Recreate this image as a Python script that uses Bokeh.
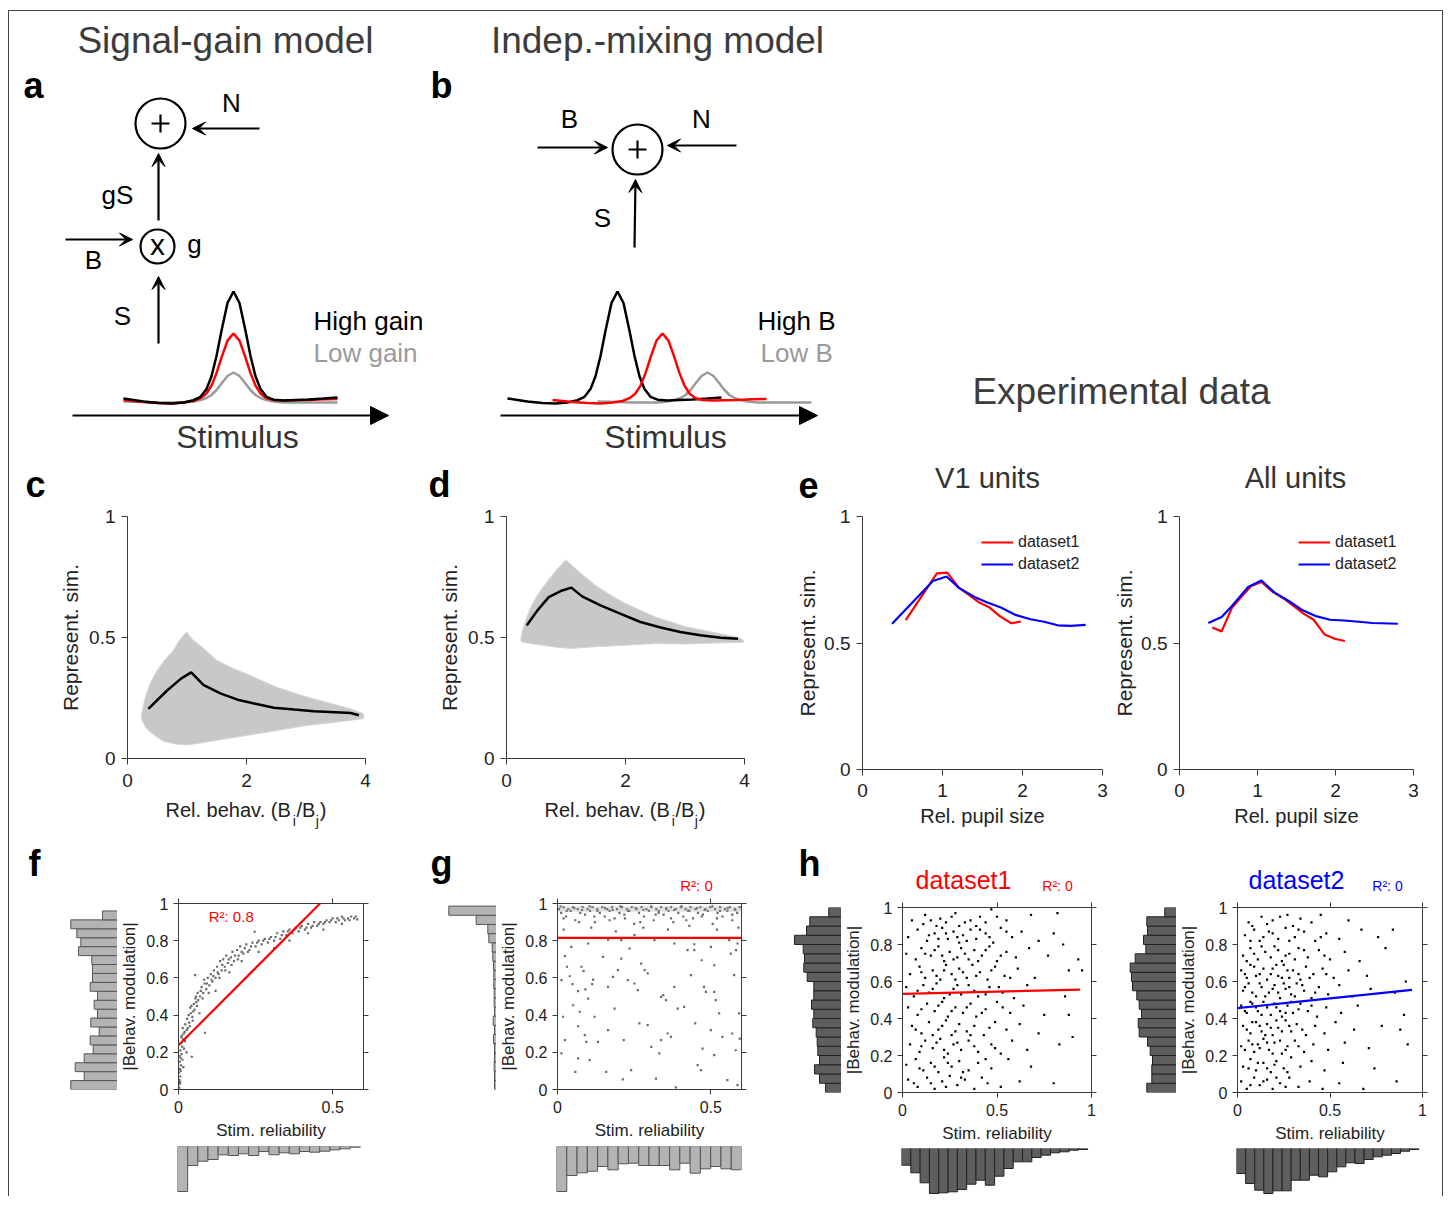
import numpy as np
from bokeh.plotting import figure
from bokeh.layouts import row, column
from bokeh.models import (Range1d, Label, Arrow, VeeHead, NormalHead, LinearAxis,
                          FixedTicker, NumeralTickFormatter, Legend, LegendItem,
                          CustomLabelingPolicy)
from bokeh.embed import file_html
from bokeh.resources import INLINE

FONT = "Liberation Sans"

# ======================= DATA =======================
# schematic tuning-curve bumps (offset from peak, height above baseline)
bump_dx    = [-110, -90, -75, -62, -50, -40, -33, -27, -22, -17, -12, -6, 0, 6, 12, 17, 22, 27, 33, 40, 50, 62, 75, 90, 104]
bump_black = [2, -1, -2.5, -3, -2, 0.3, 3.7, 11.4, 24.3, 44.5, 69.8, 97.5, 109, 97.5, 69.8, 44.5, 24.3, 11.4, 3.7, 0.8, 0, 0.5, 1, 2, 3]
bump_red   = [0.5, -1.5, -2.5, -3, -2, -0.5, 2.3, 7.0, 14.9, 27.4, 42.9, 59.9, 67, 59.9, 42.9, 27.4, 14.9, 7.0, 2.3, 0.5, 0, 0.3, 0.6, 1.2, 1.5]
bump_gray  = [-1, -1.5, -2, -2, -2, -1, 0.5, 2.5, 5.5, 10.5, 17, 24.5, 28, 24.5, 17, 10.5, 5.5, 2.5, 0.5, -1, -2, -2, -2, -2, -2]

# panel c : signal-gain model simulation cloud + mean
c_up_x = [0.23, 0.25, 0.3, 0.38, 0.5, 0.62, 0.75, 0.88, 0.99, 1.1, 1.25, 1.5, 1.75, 2.0, 2.5, 3.0, 3.5, 3.75, 3.97]
c_up_y = [0.17, 0.2, 0.254, 0.31, 0.364, 0.405, 0.44, 0.49, 0.523, 0.49, 0.461, 0.406, 0.375, 0.35, 0.295, 0.255, 0.222, 0.205, 0.185]
c_lo_x = [3.97, 3.5, 3.0, 2.5, 2.0, 1.5, 1.2, 1.0, 0.8, 0.6, 0.5, 0.38, 0.3, 0.25]
c_lo_y = [0.165, 0.15, 0.136, 0.115, 0.095, 0.075, 0.063, 0.056, 0.06, 0.072, 0.088, 0.11, 0.13, 0.155]
c_mean_x = [0.35, 0.67, 0.90, 1.07, 1.28, 1.57, 1.85, 2.13, 2.46, 2.80, 3.13, 3.58, 3.75, 3.89]
c_mean_y = [0.205, 0.282, 0.330, 0.356, 0.303, 0.268, 0.243, 0.227, 0.210, 0.202, 0.195, 0.190, 0.188, 0.179]

# panel d : independent-mixing model
d_up_x = [0.24, 0.27, 0.32, 0.4, 0.5, 0.62, 0.75, 0.88, 1.0, 1.2, 1.5, 1.75, 2.0, 2.5, 3.0, 3.5, 3.9, 3.98]
d_up_y = [0.49, 0.53, 0.57, 0.62, 0.667, 0.71, 0.752, 0.79, 0.821, 0.775, 0.715, 0.675, 0.64, 0.585, 0.545, 0.52, 0.5, 0.49]
d_lo_x = [3.98, 3.5, 3.0, 2.5, 2.0, 1.5, 1.1, 0.9, 0.6, 0.4, 0.25]
d_lo_y = [0.48, 0.477, 0.473, 0.475, 0.468, 0.462, 0.455, 0.458, 0.468, 0.475, 0.482]
d_mean_x = [0.34, 0.52, 0.71, 0.91, 1.09, 1.27, 1.58, 1.92, 2.25, 2.59, 2.92, 3.26, 3.60, 3.89]
d_mean_y = [0.550, 0.612, 0.667, 0.692, 0.706, 0.670, 0.633, 0.598, 0.564, 0.541, 0.523, 0.509, 0.499, 0.495]

# panel e : experimental data
v1_ds1_x = [0.54, 0.93, 1.06, 1.2, 1.33, 1.46, 1.59, 1.72, 1.86, 1.98]
v1_ds1_y = [0.59, 0.775, 0.778, 0.72, 0.69, 0.66, 0.64, 0.605, 0.578, 0.585]
v1_ds2_x = [0.37, 0.88, 1.05, 1.21, 1.40, 1.56, 1.73, 1.92, 2.10, 2.27, 2.44, 2.60, 2.79]
v1_ds2_y = [0.576, 0.745, 0.763, 0.717, 0.682, 0.660, 0.640, 0.610, 0.594, 0.584, 0.570, 0.568, 0.572]
all_ds1_x = [0.42, 0.54, 0.67, 0.79, 0.92, 1.05, 1.20, 1.34, 1.47, 1.59, 1.72, 1.86, 1.99, 2.12]
all_ds1_y = [0.561, 0.546, 0.638, 0.682, 0.725, 0.741, 0.701, 0.675, 0.645, 0.616, 0.592, 0.534, 0.517, 0.508]
all_ds2_x = [0.37, 0.54, 0.67, 0.88, 1.05, 1.22, 1.40, 1.58, 1.76, 1.93, 2.11, 2.30, 2.47, 2.80]
all_ds2_y = [0.579, 0.603, 0.645, 0.721, 0.747, 0.699, 0.666, 0.629, 0.605, 0.592, 0.589, 0.584, 0.579, 0.576]

# panel f : signal-gain model, reliability vs behavioural modulation
f_pts = [(0.002,0.01),(0.004,0.03),(0.003,0.05),(0.006,0.07),(0.002,0.09),(0.005,0.11),(0.008,0.13),(0.004,0.15),
         (0.007,0.17),(0.01,0.19),(0.006,0.21),(0.012,0.23),(0.009,0.25),(0.015,0.27),(0.011,0.29),(0.018,0.22),
         (0.02,0.31),(0.014,0.33),(0.025,0.28),(0.022,0.35),(0.03,0.33),(0.028,0.38),(0.035,0.36),(0.04,0.41),
         (0.038,0.44),(0.045,0.39),(0.05,0.46),(0.048,0.42),(0.055,0.49),(0.06,0.45),(0.062,0.52),(0.058,0.47),
         (0.07,0.5),(0.075,0.55),(0.08,0.52),(0.085,0.57),(0.09,0.54),(0.095,0.6),(0.1,0.56),(0.105,0.62),
         (0.11,0.58),(0.115,0.64),(0.12,0.6),(0.125,0.66),(0.13,0.62),(0.135,0.69),(0.14,0.64),(0.145,0.7),
         (0.15,0.66),(0.155,0.72),(0.16,0.68),(0.17,0.71),(0.175,0.74),(0.18,0.69),(0.19,0.75),(0.195,0.72),
         (0.2,0.77),(0.21,0.73),(0.215,0.76),(0.22,0.78),(0.23,0.75),(0.24,0.79),(0.25,0.77),(0.26,0.8),
         (0.27,0.78),(0.28,0.81),(0.29,0.79),(0.3,0.82),(0.31,0.8),(0.32,0.84),(0.33,0.81),(0.34,0.85),
         (0.35,0.83),(0.36,0.86),(0.37,0.84),(0.38,0.87),(0.39,0.85),(0.4,0.88),(0.41,0.86),(0.42,0.89),
         (0.43,0.87),(0.44,0.9),(0.45,0.88),(0.46,0.9),(0.47,0.89),(0.48,0.91),(0.49,0.9),(0.5,0.92),
         (0.51,0.9),(0.52,0.91),(0.53,0.93),(0.54,0.91),(0.55,0.92),(0.56,0.93),(0.57,0.92),(0.58,0.915),
         (0.086,0.305),(0.043,0.176),(0.247,0.848),(0.054,0.615),(0.016,0.12),(0.026,0.2),(0.068,0.41),
         (0.12,0.53),(0.165,0.63),(0.205,0.69),(0.26,0.74),(0.31,0.76),(0.36,0.8),(0.42,0.84),(0.47,0.86),(0.53,0.89),
         (0.005,0.04),(0.007,0.1),(0.003,0.18),(0.009,0.28),(0.013,0.16),(0.017,0.3),(0.021,0.26),(0.027,0.32),
         (0.033,0.4),(0.037,0.34),(0.042,0.45),(0.046,0.37),(0.052,0.43),(0.057,0.5),(0.064,0.48),(0.072,0.53),
         (0.078,0.49),(0.083,0.59),(0.092,0.57),(0.098,0.52),(0.107,0.59),(0.113,0.61),(0.127,0.63),(0.133,0.6),
         (0.142,0.67),(0.152,0.64),(0.163,0.7),(0.172,0.67),(0.183,0.72),(0.193,0.7),(0.205,0.74),(0.225,0.74),
         (0.235,0.77),(0.255,0.79),(0.275,0.8),(0.295,0.81),(0.315,0.82),(0.335,0.83),(0.355,0.85),(0.375,0.86),
         (0.395,0.87),(0.415,0.87),(0.435,0.88),(0.455,0.89),(0.475,0.9),(0.495,0.91),(0.515,0.92),(0.535,0.92),
         (0.555,0.91),(0.575,0.93)]
f_fit_x = [0.0, 0.459]
f_fit_y = [0.238, 1.0]
f_left_counts = [46.7, 33.3, 42.3, 33.3, 24.3, 27.3, 18.3, 26.7, 20, 23.3, 20, 27.3, 25, 25, 25.7, 39, 36.7, 40.7, 46.7, 15]
f_bottom_counts = [45, 19, 14.7, 13, 8.3, 9, 7.3, 9, 5, 8.3, 6.3, 7.3, 5, 5.7, 4.7, 3.3, 2.3, 0.7]

# panel g : independent-mixing model
g_pts = [(0.005,0.97),(0.012,0.95),(0.02,0.98),(0.028,0.93),(0.035,0.97),(0.043,0.96),(0.05,0.98),(0.058,0.91),
         (0.066,0.97),(0.074,0.95),(0.082,0.98),(0.09,0.94),(0.098,0.97),(0.106,0.96),(0.114,0.98),(0.122,0.9),
         (0.13,0.97),(0.138,0.95),(0.146,0.98),(0.154,0.93),(0.162,0.97),(0.17,0.96),(0.178,0.98),(0.186,0.92),
         (0.194,0.97),(0.202,0.95),(0.21,0.98),(0.218,0.94),(0.226,0.97),(0.234,0.96),(0.242,0.98),(0.25,0.89),
         (0.258,0.97),(0.266,0.95),(0.274,0.98),(0.282,0.93),(0.29,0.97),(0.298,0.96),(0.306,0.98),(0.314,0.91),
         (0.322,0.97),(0.33,0.95),(0.338,0.98),(0.346,0.94),(0.354,0.97),(0.362,0.96),(0.37,0.98),(0.378,0.9),
         (0.386,0.97),(0.394,0.95),(0.402,0.98),(0.41,0.93),(0.418,0.97),(0.426,0.96),(0.434,0.98),(0.442,0.92),
         (0.45,0.97),(0.458,0.95),(0.466,0.98),(0.474,0.94),(0.482,0.97),(0.49,0.96),(0.498,0.98),(0.506,0.89),
         (0.514,0.97),(0.522,0.95),(0.53,0.98),(0.538,0.93),(0.546,0.97),(0.554,0.96),(0.562,0.98),(0.57,0.91),
         (0.578,0.97),(0.586,0.95),(0.594,0.98),
         (0.01,0.985),(0.03,0.96),(0.055,0.975),(0.08,0.965),(0.105,0.985),(0.13,0.96),(0.155,0.975),(0.18,0.965),
         (0.205,0.985),(0.23,0.96),(0.255,0.975),(0.28,0.965),(0.305,0.985),(0.33,0.96),(0.355,0.975),(0.38,0.965),
         (0.405,0.985),(0.43,0.96),(0.455,0.975),(0.48,0.965),(0.505,0.985),(0.53,0.96),(0.555,0.975),(0.58,0.965),
         (0.02,0.92),(0.07,0.9),(0.12,0.93),(0.17,0.91),(0.22,0.92),(0.27,0.9),(0.32,0.94),(0.37,0.92),
         (0.42,0.91),(0.47,0.93),(0.52,0.92),(0.57,0.94),
         (0.024,0.717),(0.031,0.66),(0.04,0.609),(0.049,0.566),(0.067,0.529),(0.078,0.66),(0.085,0.636),
         (0.091,0.538),(0.1,0.489),(0.113,0.566),(0.116,0.591),(0.148,0.713),(0.165,0.552),(0.181,0.606),
         (0.197,0.642),(0.208,0.704),(0.235,0.758),(0.273,0.677),(0.284,0.642),(0.294,0.624),(0.251,0.57),
         (0.338,0.498),(0.345,0.507),(0.354,0.48),(0.381,0.552),(0.392,0.435),(0.424,0.749),(0.446,0.749),
         (0.47,0.695),(0.478,0.552),(0.484,0.525),(0.511,0.668),(0.516,0.48),(0.527,0.409),(0.565,0.731),
         (0.576,0.615),(0.582,0.749),(0.592,0.409),
         (0.013,0.194),(0.024,0.265),(0.058,0.095),(0.067,0.167),(0.089,0.292),(0.094,0.256),(0.105,0.158),
         (0.132,0.256),(0.159,0.095),(0.165,0.319),(0.216,0.265),(0.213,0.054),(0.24,0.104),(0.267,0.355),
         (0.306,0.229),(0.321,0.059),(0.332,0.194),(0.338,0.265),(0.359,0.301),(0.386,0.011),(0.413,0.444),
         (0.449,0.355),(0.457,0.131),(0.468,0.104),(0.473,0.22),(0.5,0.319),(0.511,0.185),(0.538,0.283),
         (0.554,0.05),(0.57,0.301),(0.581,0.211),(0.587,0.023),(0.594,0.274),
         (0.013,0.588),(0.018,0.391),(0.051,0.453),(0.067,0.34),(0.073,0.418),(0.121,0.391),(0.186,0.435),
         (0.229,0.588),(0.262,0.534),(0.294,0.346),(0.37,0.283),(0.435,0.615),(0.511,0.525),(0.56,0.803),
         (0.587,0.785),(0.316,0.803),(0.208,0.803),(0.1,0.785),(0.165,0.806),(0.381,0.785),(0.446,0.781),
         (0.251,0.83),(0.045,0.767),(0.5,0.767),(0.02,0.86),(0.11,0.87),(0.19,0.85),(0.28,0.87),(0.36,0.86),
         (0.43,0.88),(0.52,0.86),(0.59,0.87)]
g_band_x = [0.0, 0.6, 0.6, 0.0]
g_band_y = [0.955, 0.955, 0.985, 0.985]
g_fit_x = [0.0, 0.6]
g_fit_y = [0.815, 0.815]
g_left_counts = [2, 2, 2.3, 2, 2, 3, 2, 3.3, 2, 2.3, 2.3, 2.7, 2.7, 3, 3.7, 4.3, 7.7, 8.7, 20.3, 47.7]
g_bottom_counts = [45, 29, 26.3, 24.7, 20, 23.3, 17.3, 16.7, 19, 19, 19, 23.3, 16.7, 26.7, 22.3, 20, 22.3, 23.3]

# panel h : experimental data
h1_pts = [(0.05,0.93),(0.12,0.96),(0.2,0.94),(0.28,0.97),(0.33,0.92),(0.41,0.95),(0.47,0.99),(0.55,0.93),(0.68,0.96),(0.82,0.97),
          (0.03,0.84),(0.08,0.88),(0.13,0.82),(0.17,0.86),(0.21,0.89),(0.24,0.83),(0.27,0.87),(0.3,0.81),(0.32,0.85),
          (0.36,0.88),(0.39,0.83),(0.44,0.86),(0.48,0.81),(0.52,0.89),(0.58,0.84),(0.63,0.87),(0.72,0.82),(0.8,0.86),
          (0.02,0.75),(0.07,0.72),(0.1,0.78),(0.15,0.74),(0.19,0.79),(0.22,0.71),(0.25,0.76),(0.29,0.73),(0.31,0.78),
          (0.35,0.72),(0.38,0.77),(0.42,0.74),(0.46,0.79),(0.5,0.71),(0.55,0.76),(0.6,0.73),(0.67,0.78),(0.77,0.74),
          (0.04,0.64),(0.09,0.68),(0.12,0.62),(0.16,0.66),(0.2,0.61),(0.23,0.69),(0.26,0.64),(0.3,0.67),(0.34,0.62),
          (0.37,0.69),(0.41,0.65),(0.45,0.61),(0.49,0.68),(0.54,0.63),(0.61,0.67),(0.7,0.62),(0.88,0.66),
          (0.02,0.57),(0.06,0.52),(0.11,0.58),(0.14,0.54),(0.18,0.59),(0.22,0.51),(0.27,0.56),(0.31,0.53),(0.35,0.58),
          (0.4,0.52),(0.46,0.57),(0.53,0.54),(0.59,0.51),(0.66,0.58),(0.86,0.52),
          (0.03,0.46),(0.08,0.42),(0.13,0.48),(0.17,0.44),(0.21,0.49),(0.24,0.41),(0.28,0.46),(0.32,0.43),(0.36,0.48),
          (0.39,0.41),(0.44,0.45),(0.5,0.49),(0.57,0.43),(0.64,0.47),(0.75,0.42),
          (0.05,0.36),(0.1,0.32),(0.14,0.38),(0.19,0.34),(0.23,0.39),(0.26,0.31),(0.3,0.37),(0.34,0.33),(0.38,0.36),
          (0.43,0.31),(0.49,0.38),(0.55,0.34),(0.62,0.37),(0.72,0.32),
          (0.04,0.26),(0.09,0.22),(0.12,0.28),(0.16,0.24),(0.2,0.29),(0.24,0.21),(0.27,0.26),(0.31,0.23),(0.35,0.28),
          (0.4,0.22),(0.47,0.26),(0.49,0.24),(0.58,0.28),(0.66,0.23),
          (0.02,0.15),(0.07,0.18),(0.11,0.12),(0.15,0.16),(0.19,0.11),(0.22,0.19),(0.26,0.14),(0.3,0.17),(0.35,0.12),
          (0.4,0.16),(0.47,0.13),(0.56,0.18),(0.68,0.14),
          (0.03,0.07),(0.08,0.03),(0.13,0.08),(0.17,0.02),(0.21,0.06),(0.25,0.09),(0.29,0.04),(0.33,0.07),(0.38,0.02),
          (0.45,0.05),(0.52,0.03),(0.62,0.06),
          (0.8,0.05),(0.83,0.26),(0.88,0.42),(0.9,0.3),(0.93,0.72),(0.95,0.66),(0.85,0.8),
          (0.11,0.91),(0.15,0.93),(0.18,0.9),(0.23,0.92),(0.26,0.95),(0.3,0.9),(0.36,0.93),(0.39,0.9),(0.44,0.92),(0.5,0.95),
          (0.14,0.85),(0.19,0.83),(0.23,0.86),(0.29,0.84),(0.34,0.82),(0.41,0.88),(0.46,0.84),(0.55,0.87),
          (0.12,0.75),(0.17,0.77),(0.21,0.74),(0.27,0.72),(0.33,0.75),(0.4,0.71),(0.44,0.77),(0.52,0.74),
          (0.1,0.65),(0.18,0.63),(0.22,0.66),(0.28,0.61),(0.32,0.65),(0.39,0.63),(0.47,0.66),(0.57,0.62),
          (0.08,0.55),(0.16,0.56),(0.25,0.53),(0.29,0.58),(0.38,0.55),(0.44,0.53),(0.51,0.57),
          (0.1,0.45),(0.19,0.47),(0.26,0.44),(0.34,0.46),(0.42,0.43),(0.53,0.46),
          (0.07,0.34),(0.16,0.31),(0.21,0.36),(0.28,0.33),(0.36,0.31),(0.46,0.35),
          (0.1,0.25),(0.18,0.27),(0.22,0.23),(0.29,0.27),(0.38,0.25),(0.52,0.21),
          (0.09,0.13),(0.17,0.14),(0.24,0.16),(0.32,0.11),(0.44,0.18),
          (0.06,0.05),(0.15,0.05),(0.23,0.03),(0.31,0.08),(0.42,0.08)]
h1_fit_x = [0.0, 0.94]
h1_fit_y = [0.533, 0.556]
h1_left_counts = [16, 22, 27, 22, 23.7, 24.3, 25.3, 28.7, 27.7, 30, 27.7, 27.7, 34.3, 37.7, 37, 38.3, 47, 35, 31.7, 12.7]
h1_bottom_counts = [16.7, 24.3, 34.3, 45, 44.3, 43.3, 41, 35.7, 31.7, 36.7, 27.7, 20, 13.3, 13.3, 9, 6.7, 4.3, 3.3, 1.7, 1]

h2_pts = [(0.06,0.92),(0.13,0.95),(0.19,0.93),(0.27,0.96),(0.34,0.94),(0.45,0.96),(0.6,0.93),
          (0.04,0.85),(0.09,0.88),(0.12,0.82),(0.17,0.87),(0.22,0.83),(0.26,0.89),(0.31,0.84),(0.36,0.87),(0.42,0.82),
          (0.48,0.86),(0.55,0.83),(0.67,0.88),(0.76,0.84),
          (0.03,0.74),(0.07,0.78),(0.11,0.72),(0.15,0.76),(0.2,0.79),(0.24,0.71),(0.28,0.75),(0.33,0.78),(0.38,0.73),
          (0.44,0.77),(0.5,0.72),(0.58,0.76),(0.66,0.71),(0.8,0.78),
          (0.02,0.66),(0.05,0.62),(0.09,0.68),(0.12,0.64),(0.16,0.61),(0.19,0.67),(0.22,0.63),(0.25,0.69),(0.28,0.62),
          (0.3,0.66),(0.34,0.61),(0.37,0.68),(0.41,0.64),(0.46,0.67),(0.52,0.62),(0.6,0.66),(0.7,0.63),(0.91,0.6),
          (0.03,0.55),(0.06,0.59),(0.1,0.52),(0.13,0.57),(0.17,0.54),(0.2,0.58),(0.23,0.51),(0.26,0.56),(0.29,0.53),
          (0.32,0.59),(0.36,0.55),(0.4,0.51),(0.44,0.57),(0.49,0.53),(0.55,0.58),(0.62,0.52),(0.72,0.56),(0.85,0.54),
          (0.02,0.47),(0.05,0.43),(0.08,0.48),(0.11,0.44),(0.14,0.49),(0.18,0.42),(0.21,0.46),(0.24,0.41),(0.27,0.47),
          (0.3,0.43),(0.34,0.48),(0.38,0.44),(0.43,0.41),(0.48,0.46),(0.56,0.43),(0.65,0.47),(0.9,0.42),
          (0.03,0.36),(0.07,0.32),(0.1,0.38),(0.13,0.33),(0.16,0.37),(0.19,0.31),(0.22,0.35),(0.26,0.39),(0.29,0.33),
          (0.32,0.37),(0.37,0.31),(0.42,0.36),(0.47,0.32),(0.53,0.38),(0.63,0.34),(0.78,0.36),
          (0.02,0.25),(0.06,0.28),(0.09,0.22),(0.11,0.26),(0.14,0.29),(0.17,0.23),(0.2,0.27),(0.24,0.21),(0.27,0.25),
          (0.31,0.28),(0.36,0.22),(0.41,0.26),(0.49,0.23),(0.58,0.27),(0.71,0.24),
          (0.03,0.14),(0.07,0.18),(0.1,0.12),(0.14,0.16),(0.18,0.11),(0.21,0.17),(0.25,0.13),(0.29,0.19),(0.34,0.14),
          (0.4,0.17),(0.47,0.12),(0.57,0.16),(0.74,0.13),
          (0.02,0.06),(0.05,0.02),(0.09,0.08),(0.12,0.04),(0.16,0.07),(0.19,0.02),(0.23,0.05),(0.28,0.08),(0.33,0.03),
          (0.39,0.06),(0.46,0.02),(0.55,0.05),(0.68,0.02),
          (0.86,0.06),(0.88,0.34),(0.84,0.88),(0.92,0.26),
          (0.08,0.9),(0.16,0.91),(0.23,0.95),(0.3,0.9),(0.4,0.92),
          (0.07,0.82),(0.14,0.84),(0.19,0.86),(0.28,0.82),(0.33,0.88),(0.45,0.84),
          (0.05,0.71),(0.09,0.75),(0.13,0.79),(0.18,0.73),(0.22,0.77),(0.26,0.74),(0.31,0.72),(0.36,0.77),(0.47,0.74),
          (0.04,0.64),(0.07,0.69),(0.1,0.63),(0.14,0.67),(0.18,0.64),(0.21,0.69),(0.24,0.62),(0.27,0.66),(0.33,0.64),
          (0.39,0.62),(0.48,0.64),
          (0.04,0.57),(0.08,0.54),(0.12,0.59),(0.15,0.52),(0.19,0.56),(0.22,0.54),(0.25,0.59),(0.28,0.57),(0.31,0.52),
          (0.35,0.58),(0.42,0.54),
          (0.04,0.44),(0.07,0.49),(0.1,0.46),(0.13,0.42),(0.16,0.46),(0.2,0.48),(0.23,0.44),(0.26,0.43),(0.29,0.49),
          (0.33,0.45),(0.4,0.47),
          (0.05,0.34),(0.08,0.38),(0.12,0.36),(0.15,0.31),(0.18,0.35),(0.21,0.39),(0.24,0.33),(0.28,0.36),(0.35,0.34),
          (0.04,0.23),(0.08,0.26),(0.12,0.24),(0.16,0.27),(0.19,0.21),(0.23,0.28),(0.26,0.23),(0.33,0.25),
          (0.06,0.13),(0.11,0.16),(0.16,0.13),(0.2,0.15),(0.27,0.11),
          (0.07,0.04),(0.14,0.06),(0.21,0.08),(0.26,0.03)]
h2_fit_x = [0.0, 0.943]
h2_fit_y = [0.456, 0.555]
h2_left_counts = [29.7, 24.7, 24.7, 24, 26.3, 29, 37.3, 38.3, 35, 37.3, 39.7, 44, 45, 46.3, 41.3, 30.7, 33, 29, 29.7, 11.7]
h2_bottom_counts = [25, 35, 41.7, 45, 42.3, 42.3, 31.7, 31.7, 26.7, 28.3, 23.3, 18.3, 14.3, 15, 11, 8.3, 6.7, 5, 2.7, 1]

# ======================= HELPERS =======================
FRAMES = {}


def panel(px0, py0, px1, py1, fl, ft, fr, fb, xr, yr):
    p = figure(width=px1 - px0, height=py1 - py0, x_range=Range1d(*xr), y_range=Range1d(*yr),
               output_backend="svg", toolbar_location=None, x_axis_type=None, y_axis_type=None,
               min_border_left=fl - px0, min_border_right=px1 - fr,
               min_border_top=ft - py0, min_border_bottom=py1 - fb)
    p.frame_align = False
    p.outline_line_color = None
    p.background_fill_color = "white"
    p.border_fill_color = "white"
    FRAMES[p.id] = (fl, ft, fr, fb, xr, yr)
    return p


def strip(px0, py0, px1, py1):
    return panel(px0, py0, px1, py1, px0, py0, px1, py1, (px0, px1), (py1, py0))


def to_data(p, px, py):
    fl, ft, fr, fb, (x0, x1), (y0, y1) = FRAMES[p.id]
    return (x0 + (px - fl) / (fr - fl) * (x1 - x0),
            y0 + (fb - py) / (fb - ft) * (y1 - y0))


def txt(p, px, py, text, size, color="#222222", style="normal", align="center", center=False):
    # py is the text baseline (page px) unless center=True
    yc = py if center else py - 0.35 * size
    x, y = to_data(p, px, yc)
    p.add_layout(Label(x=x, y=y, text=text, text_font=FONT, text_font_size=f"{size}px",
                       text_color=color, text_font_style=style, text_align=align,
                       text_baseline="middle"))


def add_axis(p, side, ticks, fs=19, label=None, lfs=20, standoff=6, tick_out=6, lstand=4, show=True):
    ax = LinearAxis(ticker=FixedTicker(ticks=ticks), formatter=NumeralTickFormatter(format="0.[0]"))
    ax.major_tick_in = 0
    ax.major_tick_out = tick_out
    ax.minor_tick_line_color = None
    ax.axis_line_color = "#3a3a3a"
    ax.major_tick_line_color = "#3a3a3a"
    ax.major_label_text_font = FONT
    ax.major_label_text_color = "#222222"
    if show:
        ax.major_label_text_font_size = f"{fs}px"
        ax.major_label_standoff = standoff
    else:
        ax.major_label_text_font_size = "1px"
        ax.major_label_standoff = 0
        ax.major_label_policy = CustomLabelingPolicy(code="return []")
    if label:
        ax.axis_label = label
        ax.axis_label_text_font = FONT
        ax.axis_label_text_font_size = f"{lfs}px"
        ax.axis_label_text_font_style = "normal"
        ax.axis_label_text_color = "#222222"
        ax.axis_label_standoff = lstand
    p.add_layout(ax, side)
    return ax


def arrow(p, x0, y0, x1, y1, big=False):
    head = (NormalHead(size=18, fill_color="black", line_color="black", line_width=1) if big
            else VeeHead(size=13, fill_color="black", line_color="black", line_width=1))
    p.add_layout(Arrow(end=head, x_start=x0, y_start=y0, x_end=x1, y_end=y1,
                       line_width=2.2, line_color="black"))


RIGHT = 1442

# ======================= BAND A: schematics + row-2 headers =======================
top = strip(9, 11, RIGHT, 505)

TITLE_C = "#3c3c3c"
txt(top, 225, 53, "Signal-gain model", 37, TITLE_C)
txt(top, 657, 53, "Indep.-mixing model", 37, TITLE_C)
txt(top, 1121, 404, "Experimental data", 37, TITLE_C)
txt(top, 23, 98, "a", 36, "black", "bold", "left")
txt(top, 430, 98, "b", 36, "black", "bold", "left")

# --- a ---
top.circle(x=[160], y=[123], radius=25, fill_color=None, line_color="black", line_width=2.2)
top.segment(x0=[151, 160], y0=[123, 114], x1=[169, 160], y1=[123, 132], line_color="black", line_width=2.2)
top.circle(x=[157], y=[246], radius=17, fill_color=None, line_color="black", line_width=2.2)
txt(top, 157, 244, "x", 30, "black", center=True)
arrow(top, 259, 128, 192, 128)
arrow(top, 158, 220, 158, 153)
arrow(top, 65, 239, 132, 239)
arrow(top, 158, 343, 158, 276)
arrow(top, 72, 415, 388, 415, big=True)
txt(top, 231, 112, "N", 26, "black")
txt(top, 117, 204, "gS", 26, "black")
txt(top, 194, 253, "g", 26, "black")
txt(top, 93, 269, "B", 26, "black")
txt(top, 122, 325, "S", 26, "black")
for cx, h, col in [(233, bump_gray, "#9a9a9a"), (233, bump_red, "#ff0000"), (233, bump_black, "black")]:
    top.line([cx + d for d in bump_dx], [400 - v for v in h], line_color=col, line_width=2.5)
txt(top, 313, 330, "High gain", 26, "black", align="left")
txt(top, 313, 362, "Low gain", 26, "#9a9a9a", align="left")
txt(top, 237, 448, "Stimulus", 32, "#333333")

# --- b ---
top.circle(x=[637], y=[149], radius=25, fill_color=None, line_color="black", line_width=2.2)
top.segment(x0=[628, 637], y0=[149, 140], x1=[646, 637], y1=[149, 158], line_color="black", line_width=2.2)
arrow(top, 537, 147, 607, 147)
arrow(top, 736, 145, 667, 145)
arrow(top, 634, 247, 635, 179)
arrow(top, 500, 415, 817, 415, big=True)
txt(top, 569, 128, "B", 26, "black")
txt(top, 701, 128, "N", 26, "black")
txt(top, 602, 227, "S", 26, "black")
for cx, h, col in [(707, bump_gray, "#9a9a9a"), (617, bump_black, "black"), (662, bump_red, "#ff0000")]:
    top.line([cx + d for d in bump_dx], [400 - v for v in h], line_color=col, line_width=2.5)
txt(top, 757, 330, "High B", 26, "black", align="left")
txt(top, 760, 362, "Low B", 26, "#9a9a9a", align="left")
txt(top, 665, 448, "Stimulus", 32, "#333333")

# row-2 panel letters and titles
txt(top, 25, 497, "c", 36, "black", "bold", "left")
txt(top, 428, 497, "d", 36, "black", "bold", "left")
txt(top, 798, 497, "e", 36, "black", "bold", "left")
txt(top, 987, 488, "V1 units", 29, "#333333")
txt(top, 1295, 488, "All units", 29, "#333333")

# ======================= BAND B: c, d, e =======================
def sim_panel(px0, px1, fl, fr, up_x, up_y, lo_x, lo_y, m_x, m_y):
    p = panel(px0, 505, px1, 796, fl, 516, fr, 758, (0, 4), (0, 1))
    add_axis(p, "left", [0, 0.5, 1], 19, "Represent. sim.", 21, lstand=4)
    add_axis(p, "below", [0, 2, 4], 19, standoff=9)
    p.patch(up_x + lo_x, up_y + lo_y, fill_color="#c8c8c8", line_color="#d6d6d6", line_width=1)
    p.line(m_x, m_y, line_color="black", line_width=2.5)
    return p


fig_c = sim_panel(9, 405, 127, 365, c_up_x, c_up_y, c_lo_x, c_lo_y, c_mean_x, c_mean_y)
fig_d = sim_panel(405, 785, 506, 744, d_up_x, d_up_y, d_lo_x, d_lo_y, d_mean_x, d_mean_y)

strip_cd = strip(9, 796, 785, 840)
for cx in (246, 625):
    s = cx - 81
    txt(strip_cd, s, 816, "Rel. behav. (B", 20, align="left")
    txt(strip_cd, s + 127.2, 825, "i", 14, align="left")
    txt(strip_cd, s + 131.0, 816, "/B", 20, align="left")
    txt(strip_cd, s + 150.3, 825, "j", 14, align="left")
    txt(strip_cd, s + 154.3, 816, ")", 20, align="left")


def exp_panel(px0, px1, fl, fr, x1, y1, x2, y2):
    p = panel(px0, 505, px1, 840, fl, 516, fr, 769, (0, 3), (0, 1))
    add_axis(p, "left", [0, 0.5, 1], 19, "Represent. sim.", 21, lstand=2)
    add_axis(p, "below", [0, 1, 2, 3], 19, "Rel. pupil size", 20, standoff=8, lstand=5)
    r1 = p.line(x1, y1, line_color="#ff0000", line_width=2.2)
    r2 = p.line(x2, y2, line_color="#0000ff", line_width=2.2)
    leg = Legend(items=[LegendItem(label="dataset1", renderers=[r1]),
                        LegendItem(label="dataset2", renderers=[r2])],
                 location=(119, 195), border_line_color=None, background_fill_alpha=0,
                 label_text_font=FONT, label_text_font_size="16px", label_text_color="#222222",
                 glyph_width=32, glyph_height=20, label_height=20, label_standoff=5,
                 padding=4, spacing=2, margin=0)
    p.add_layout(leg)
    return p


fig_e1 = exp_panel(785, 1110, 862, 1102, v1_ds1_x, v1_ds1_y, v1_ds2_x, v1_ds2_y)
fig_e2 = exp_panel(1110, RIGHT, 1173, 1413, all_ds1_x, all_ds1_y, all_ds2_x, all_ds2_y)

# ======================= BAND C: row-3 headers =======================
H3 = 894
head3 = strip(9, 840, RIGHT, H3)
txt(head3, 28, 876, "f", 36, "black", "bold", "left")
txt(head3, 430, 876, "g", 36, "black", "bold", "left")
txt(head3, 798, 876, "h", 36, "black", "bold", "left")
txt(head3, 696, 890, "R²: 0", 15, "#ff0000")
txt(head3, 963, 888, "dataset1", 25, "#ff0000")
txt(head3, 1057, 890, "R²: 0", 14, "#ff0000")
txt(head3, 1296, 888, "dataset2", 25, "#0000ff")
txt(head3, 1387, 890, "R²: 0", 14, "#0000ff")

# ======================= BAND D: f, g, h =======================
def scatter_block(x0, xh, x1, ft, fb, fl, fr, xmax, xticks, hb_top,
                  pts, pcolor, psize, fit_x, fit_y, fit_col,
                  left_counts, ylo, yhi, bottom_counts, xlo, xhi, hfill, hline):
    hl = panel(x0, H3, xh, 1196, x0, ft, xh, fb, (xh - x0, 0), (0, 1))
    n = len(left_counts)
    bw = (yhi - ylo) / n
    centers = [ylo + bw * (i + 0.5) for i in range(n)]
    hl.hbar(y=centers, height=bw, left=0, right=left_counts, fill_color=hfill, line_color=hline, line_width=1)

    sc = panel(xh, H3, x1, hb_top, fl, ft, fr, fb, (0, xmax), (0, 1))
    add_axis(sc, "left", [0, 0.2, 0.4, 0.6, 0.8, 1], 16, "|Behav. modulation|", 17, standoff=5, tick_out=5, lstand=4)
    add_axis(sc, "below", xticks, 16, "Stim. reliability", 17, standoff=6, tick_out=5, lstand=5)
    add_axis(sc, "right", [0, 0.2, 0.4, 0.6, 0.8, 1], tick_out=5, show=False)
    add_axis(sc, "above", xticks, tick_out=5, show=False)
    xs, ys = zip(*pts)
    sc.scatter(list(xs), list(ys), marker="square", size=psize, fill_color=pcolor, line_color=None)
    sc.line(fit_x, fit_y, line_color=fit_col, line_width=2.2)

    hb = panel(xh, hb_top, x1, 1196, fl, hb_top, fr, 1196, (0, xmax), (1196 - hb_top, 0))
    m = len(bottom_counts)
    bw2 = (xhi - xlo) / m
    c2 = [xlo + bw2 * (i + 0.5) for i in range(m)]
    hb.vbar(x=c2, width=bw2, top=0, bottom=bottom_counts, fill_color=hfill, line_color=hline, line_width=1)
    return hl, sc, hb


LG_FILL, LG_LINE = "#b3b3b3", "#555555"
DK_FILL, DK_LINE = "#5e5e5e", "#222222"

hl_f, sc_f, hb_f = scatter_block(9, 117, 405, 903, 1089, 177, 363, 0.6, [0, 0.5], 1146,
                                 f_pts, "#6a6a6a", 2.2, f_fit_x, f_fit_y, "#ff0000",
                                 f_left_counts, 0, 0.96, f_bottom_counts, 0, 0.59, LG_FILL, LG_LINE)
txt(sc_f, 230, 921, "R²: 0.8", 15, "#ff0000")

hl_g, sc_g, hb_g = scatter_block(405, 496, 785, 903, 1089, 556, 741, 0.6, [0, 0.5], 1146,
                                 g_pts, "#6a6a6a", 2.2, g_fit_x, g_fit_y, "#ff0000",
                                 g_left_counts, 0, 0.986, g_bottom_counts, 0, 0.6, LG_FILL, LG_LINE)
sc_g.patch(g_band_x, g_band_y, fill_color="#9a9a9a", fill_alpha=0.3, line_color=None)

hl_h1, sc_h1, hb_h1 = scatter_block(785, 841, 1110, 907, 1092, 901, 1091, 1.0, [0, 0.5, 1], 1148,
                                    h1_pts, "black", 2.2, h1_fit_x, h1_fit_y, "#ff0000",
                                    h1_left_counts, 0, 1.0, h1_bottom_counts, 0, 0.98, DK_FILL, DK_LINE)

hl_h2, sc_h2, hb_h2 = scatter_block(1110, 1176, RIGHT, 907, 1092, 1236, 1422, 1.0, [0, 0.5, 1], 1148,
                                    h2_pts, "black", 2.2, h2_fit_x, h2_fit_y, "#0000ff",
                                    h2_left_counts, 0, 1.0, h2_bottom_counts, 0, 0.98, DK_FILL, DK_LINE)

# ======================= LAYOUT =======================
band_b = row(column(row(fig_c, fig_d, spacing=0), strip_cd, spacing=0), fig_e1, fig_e2, spacing=0)
band_d = row(hl_f, column(sc_f, hb_f, spacing=0),
             hl_g, column(sc_g, hb_g, spacing=0),
             hl_h1, column(sc_h1, hb_h1, spacing=0),
             hl_h2, column(sc_h2, hb_h2, spacing=0), spacing=0)
page = column(top, band_b, head3, band_d, spacing=0,
              styles={"border-top": "1px solid #444", "border-left": "1px solid #444",
                      "border-right": "1px solid #444", "margin-top": "10px", "margin-left": "8px"})

open("out.html", "w").write(file_html(page, INLINE))
